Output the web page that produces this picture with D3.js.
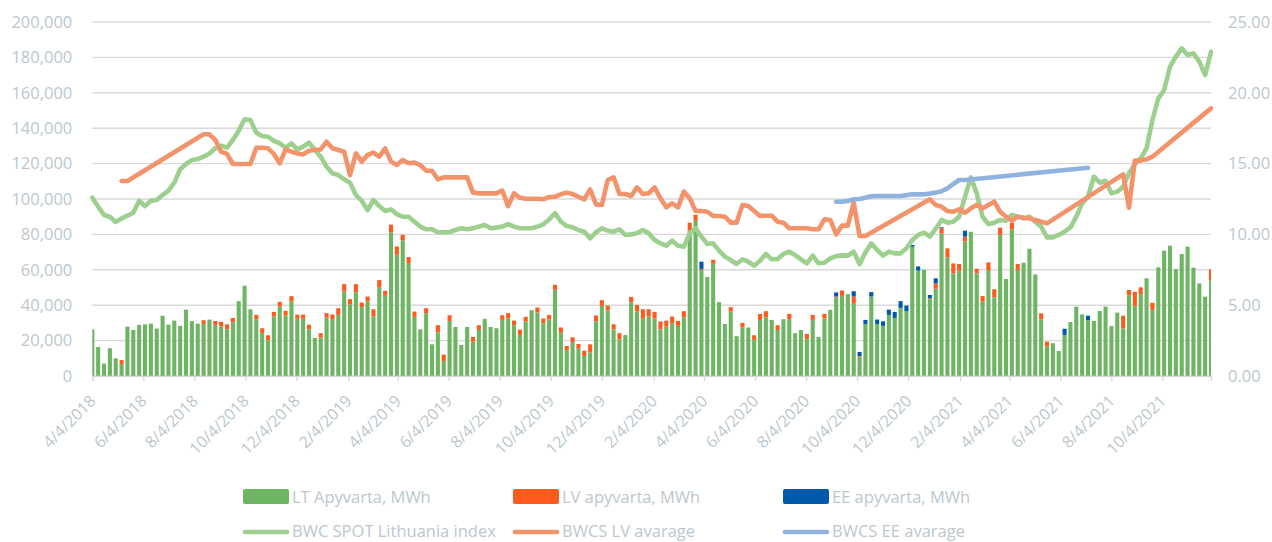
<!DOCTYPE html>
<html>
<head>
<meta charset="utf-8">
<script src="https://cdn.jsdelivr.net/npm/d3@7"></script>
<style>
  body { margin: 0; background: #fff; }
  svg text { font-family: "Open Sans", "Noto Sans", sans-serif; fill: #bcc7ce; }
</style>
</head>
<body>
<div id="chart"></div>
<script>
// weekly series, first week 4/4/2018, one value per week
var weekStart = '2018-04-04';

var LT = [26400, 16400, 7000, 15700, 10000, 6800, 27900, 26000, 28900, 29200,
    29600, 26800, 34000, 29000, 31300, 28300, 37500, 31000, 29600, 29400,
    31900, 28900, 27900, 26400, 30400, 42300, 51000, 37700, 32100, 24200,
    20200, 33600, 39200, 34200, 42100, 32300, 32300, 26400, 21500, 21700,
    33000, 32100, 34500, 47700, 40400, 47200, 38900, 42100, 33600, 50200,
    45300, 81100, 68500, 76600, 63800, 33400, 26400, 35500, 17900, 24700,
    8500, 31100, 27700, 17500, 27700, 19400, 26000, 32300, 27700, 27000,
    31700, 32600, 28700, 23200, 30800, 37200, 35900, 29800, 31900, 48700,
    24500, 14700, 19200, 15500, 11300, 13400, 30900, 39600, 37000, 26400,
    20800, 23200, 41700, 36400, 32600, 33600, 32500, 26400, 27900, 29800,
    28300, 33200, 82300, 87700, 59900, 55900, 63400, 41700, 29400, 36400,
    22500, 27500, 27400, 20400, 31700, 33200, 31700, 26000, 32100, 32100,
    24200, 26000, 20800, 31700, 22100, 32500, 37400, 44300, 45300, 46200,
    40800, 10900, 29400, 44900, 29400, 28300, 34500, 32800, 38500, 36600,
    73000, 59600, 60000, 43400, 49300, 80500, 67000, 58000, 59500, 76100,
    81500, 58000, 42000, 59900, 44400, 79700, 54800, 82900, 59900, 64000,
    71900, 57400, 32000, 16600, 18500, 14100, 23200, 30500, 39200, 34800,
    31600, 31100, 36700, 39200, 28200, 35800, 26900, 45600, 39700, 46300,
    55200, 37300, 61400, 70800, 73600, 60400, 68900, 73100, 61200, 52300,
    44800, 53900];

var LV = [0, 0, 0, 0, 0, 2200, 0, 0, 0, 0,
    0, 0, 0, 0, 0, 0, 0, 0, 0, 2100,
    0, 2200, 2700, 2800, 2400, 0, 0, 0, 2400, 2800,
    2800, 2600, 2700, 2600, 3000, 2400, 2400, 2600, 0, 2500,
    2500, 2600, 3800, 4200, 3000, 4700, 2600, 2800, 4100, 4000,
    2800, 4400, 4700, 3200, 3400, 3000, 0, 2800, 0, 4000,
    3600, 3200, 0, 0, 0, 2700, 2700, 0, 0, 0,
    2600, 2900, 2600, 3000, 2600, 0, 2800, 2700, 2600, 2800,
    2900, 2300, 2700, 2600, 3000, 4500, 3300, 3200, 2800, 2800,
    3400, 0, 3000, 3800, 5100, 4100, 3700, 4400, 3400, 3800,
    2800, 3400, 4300, 3400, 600, 0, 2300, 0, 0, 2500,
    0, 2500, 0, 2600, 3400, 3400, 0, 2700, 0, 3000,
    0, 0, 3000, 2800, 0, 2600, 0, 600, 3000, 0,
    4100, 400, 0, 0, 0, 0, 0, 0, 0, 0,
    0, 0, 0, 500, 3000, 3000, 5100, 5600, 3800, 2600,
    0, 2600, 3200, 4300, 4600, 4100, 0, 3700, 3400, 0,
    0, 0, 3400, 2800, 0, 0, 0, 0, 0, 0,
    0, 0, 0, 0, 0, 0, 7200, 3000, 7800, 3800,
    0, 4100, 0, 0, 0, 0, 0, 0, 0, 0,
    0, 6400];

var EE = [0, 0, 0, 0, 0, 0, 0, 0, 0, 0,
    0, 0, 0, 0, 0, 0, 0, 0, 0, 0,
    0, 0, 0, 0, 0, 0, 0, 0, 0, 0,
    0, 0, 0, 0, 0, 0, 0, 0, 0, 0,
    0, 0, 0, 0, 0, 0, 0, 0, 0, 0,
    0, 0, 0, 0, 0, 0, 0, 0, 0, 0,
    0, 0, 0, 0, 0, 0, 0, 0, 0, 0,
    0, 0, 0, 0, 0, 0, 0, 0, 0, 0,
    0, 0, 0, 0, 0, 0, 0, 0, 0, 0,
    0, 0, 0, 0, 0, 0, 0, 0, 0, 0,
    0, 0, 0, 0, 4100, 0, 0, 0, 0, 0,
    0, 0, 0, 0, 0, 0, 0, 0, 0, 0,
    0, 0, 0, 0, 0, 0, 0, 2300, 0, 0,
    3000, 2300, 2300, 2500, 2500, 2600, 3000, 3400, 3800, 3200,
    1000, 2300, 0, 1900, 2900, 500, 0, 0, 0, 3400,
    0, 0, 0, 0, 0, 0, 0, 0, 0, 0,
    0, 0, 0, 0, 0, 0, 3500, 0, 0, 0,
    2500, 0, 0, 0, 0, 0, 0, 0, 0, 0,
    0, 0, 0, 0, 0, 0, 0, 0, 0, 0,
    0, 0];

var spotLT = [12.59, 11.96, 11.37, 11.25, 10.88, 11.13, 11.32, 11.53, 12.38, 12.0,
    12.38, 12.43, 12.78, 13.09, 13.65, 14.6, 14.97, 15.25, 15.32, 15.49,
    15.72, 16.08, 16.27, 16.12, 16.67, 17.33, 18.13, 18.08, 17.18, 16.95,
    16.9, 16.6, 16.43, 16.12, 16.43, 16.0, 16.2, 16.48, 15.96, 15.49,
    14.78, 14.31, 14.19, 13.89, 13.65, 12.78, 12.38, 11.72, 12.43, 12.0,
    11.65, 11.77, 11.42, 11.25, 11.25, 10.9, 10.55, 10.36, 10.36, 10.15,
    10.15, 10.17, 10.31, 10.43, 10.36, 10.43, 10.55, 10.66, 10.43, 10.48,
    10.55, 10.73, 10.55, 10.43, 10.43, 10.43, 10.55, 10.71, 11.06, 11.49,
    10.9, 10.59, 10.5, 10.31, 10.19, 9.72, 10.15, 10.43, 10.26, 10.19,
    10.36, 9.96, 10.0, 10.08, 10.31, 10.08, 9.6, 9.37, 9.2, 9.56,
    9.2, 9.13, 10.08, 10.43, 9.84, 9.32, 9.37, 8.85, 8.43, 8.19,
    7.91, 8.24, 8.07, 7.79, 8.14, 8.62, 8.24, 8.26, 8.62, 8.78,
    8.54, 8.24, 7.96, 8.5, 7.96, 8.0, 8.31, 8.47, 8.52, 8.5,
    8.78, 7.89, 8.73, 9.37, 8.9, 8.5, 8.78, 8.66, 8.66, 9.02,
    9.6, 9.96, 10.12, 9.84, 10.4, 11.02, 10.83, 10.9, 11.25, 12.66,
    14.03, 12.9, 11.25, 10.73, 10.83, 11.02, 10.97, 11.37, 11.25, 11.13,
    11.25, 10.9, 10.55, 9.79, 9.79, 9.96, 10.19, 10.5, 11.25, 12.19,
    12.66, 14.08, 13.65, 13.79, 12.9, 13.02, 13.37, 14.31, 14.97, 15.37,
    16.08, 18.08, 19.61, 20.2, 21.85, 22.55, 23.14, 22.67, 22.79, 22.2,
    21.26, 22.9];

// null = no value that week, Excel joins the line across the gap
var avgLV = [null, null, null, null, null, 13.77, 13.77, null, null, null,
    null, null, null, null, null, null, null, null, null, 17.07,
    17.07, 16.67, 15.84, 15.68, 14.97, 14.97, 14.97, 14.97, 16.12, 16.12,
    16.08, 15.68, 15.02, 16.0, 15.84, 15.72, 15.65, 15.91, 15.96, 16.0,
    16.55, 16.08, 15.96, 15.84, 14.19, 15.72, 15.14, 15.61, 15.77, 15.49,
    16.08, 15.14, 14.9, 15.25, 15.02, 15.07, 14.9, 14.5, 14.5, 13.89,
    14.03, 14.03, 14.03, 14.03, 14.03, 12.95, 12.9, 12.9, 12.9, 12.9,
    13.09, 12.0, 12.9, 12.59, 12.52, 12.52, 12.52, 12.48, 12.64, 12.66,
    12.83, 12.95, 12.85, 12.66, 12.48, 13.18, 12.12, 12.08, 13.84, 14.03,
    12.85, 12.85, 12.71, 13.32, 12.85, 12.9, 13.32, 12.55, 11.91, 12.19,
    11.91, 13.02, 12.55, 11.65, 11.65, 11.6, 11.3, 11.3, 11.25, 10.83,
    10.83, 12.08, 12.0, 11.65, 11.3, 11.32, 11.32, 10.9, 10.83, 10.43,
    10.43, 10.43, 10.43, 10.36, 10.36, 11.06, 11.02, 10.0, 10.62, 10.62,
    12.24, 9.89, 9.89, null, null, null, null, null, null, null,
    null, null, null, 12.48, 12.08, 11.96, 11.65, 11.6, 11.77, 11.53,
    11.84, 12.08, 11.84, 12.08, 12.31, 11.6, 11.25, 10.97, 11.25, 11.18,
    11.13, 11.02, 10.9, 10.78, null, null, null, null, null, null,
    null, null, null, null, null, null, 14.24, 11.89, 15.21, 15.21,
    15.3, 15.49, null, null, null, null, null, null, null, null,
    null, 18.9];

var avgEE = [];
avgEE[127] = 12.31; avgEE[128] = 12.31; avgEE[129] = 12.36; avgEE[130] = 12.48;
avgEE[131] = 12.5; avgEE[132] = 12.59; avgEE[133] = 12.69; avgEE[134] = 12.71;
avgEE[135] = 12.71; avgEE[136] = 12.71; avgEE[137] = 12.71; avgEE[138] = 12.71;
avgEE[139] = 12.76; avgEE[140] = 12.83; avgEE[141] = 12.83; avgEE[142] = 12.83;
avgEE[143] = 12.88; avgEE[144] = 12.95; avgEE[145] = 13.05; avgEE[146] = 13.25;
avgEE[147] = 13.56; avgEE[148] = 13.84; avgEE[149] = 13.84; avgEE[170] = 14.71;

var tickLabels = ['4/4/2018', '6/4/2018', '8/4/2018', '10/4/2018', '12/4/2018',
    '2/4/2019', '4/4/2019', '6/4/2019', '8/4/2019', '10/4/2019', '12/4/2019',
    '2/4/2020', '4/4/2020', '6/4/2020', '8/4/2020', '10/4/2020', '12/4/2020',
    '2/4/2021', '4/4/2021', '6/4/2021', '8/4/2021', '10/4/2021'];

var barNames = ['LT Apyvarta, MWh', 'LV apyvarta, MWh', 'EE apyvarta, MWh'];
var lineNames = ['BWC SPOT Lithuania index', 'BWCS LV avarage', 'BWCS EE avarage'];
var barColors = ['#6db562', '#ff5a1e', '#005aa9'];
var lineColors = ['#9dd08f', '#f2936b', '#8fb3de'];

// ------------------------------------------------------------------
var width = 1272, height = 542;
var plot = { left: 92.3, right: 1211, top: 22, bottom: 376 };

var svg = d3.select('#chart')
    .append('svg')
    .attr('width', width)
    .attr('height', height);

var parseDay = d3.timeParse('%Y-%m-%d');
var parseTick = d3.timeParse('%-m/%-d/%Y');
var start = parseDay(weekStart);

var rows = LT.map(function(v, i) {
    return {
        date: d3.timeDay.offset(start, 7 * i),
        LT: v, LV: LV[i], EE: EE[i],
        spot: spotLT[i], lv: avgLV[i], ee: avgEE[i]
    };
});

var x = d3.scaleTime()
    .domain([rows[0].date, rows[rows.length - 1].date])
    .range([plot.left, plot.right]);

var y = d3.scaleLinear()
    .domain([0, 200000])
    .range([plot.bottom, plot.top]);

var y2 = d3.scaleLinear()
    .domain([0, 25])
    .range([plot.bottom, plot.top]);

// grid lines
svg.append('g')
    .selectAll('line')
    .data(y.ticks(10))
    .enter()
    .append('line')
    .attr('x1', plot.left)
    .attr('x2', plot.right)
    .attr('y1', function(d) { return y(d); })
    .attr('y2', function(d) { return y(d); })
    .attr('stroke', '#d9d9d9')
    .attr('stroke-width', 1.4);

// left axis
var yAxis = d3.axisLeft(y)
    .ticks(10)
    .tickSize(0)
    .tickPadding(20)
    .tickFormat(d3.format(','));

svg.append('g')
    .attr('transform', 'translate(' + plot.left + ',0)')
    .call(yAxis)
    .call(function(g) { g.select('.domain').remove(); })
    .selectAll('text')
    .style('font-size', '16.5px')
    .style('fill', '#bcc7ce');

// right axis
var y2Axis = d3.axisRight(y2)
    .ticks(5)
    .tickSize(0)
    .tickPadding(17)
    .tickFormat(d3.format('.2f'));

svg.append('g')
    .attr('transform', 'translate(' + plot.right + ',0)')
    .call(y2Axis)
    .call(function(g) { g.select('.domain').remove(); })
    .selectAll('text')
    .style('font-size', '16.5px')
    .style('fill', '#bcc7ce');

// stacked bars
svg.append('clipPath')
    .attr('id', 'plotClip')
    .append('rect')
    .attr('x', plot.left)
    .attr('y', 0)
    .attr('width', plot.right - plot.left)
    .attr('height', height);

var stack = d3.stack().keys(['LT', 'LV', 'EE']);
var layers = stack(rows);
var barW = 4.1;

svg.append('g')
    .attr('clip-path', 'url(#plotClip)')
    .selectAll('g')
    .data(layers)
    .enter()
    .append('g')
    .attr('fill', function(d, i) { return barColors[i]; })
    .selectAll('rect')
    .data(function(d) { return d.filter(function(s) { return s[1] > s[0]; }); })
    .enter()
    .append('rect')
    .attr('x', function(d) { return x(d.data.date) - barW / 2; })
    .attr('width', barW)
    .attr('y', function(d) { return y(d[1]); })
    .attr('height', function(d) { return y(d[0]) - y(d[1]); });

// x axis
var xAxis = d3.axisBottom(x)
    .tickValues(tickLabels.map(parseTick))
    .tickSize(5)
    .tickFormat(d3.timeFormat('%-m/%-d/%Y'));

var gx = svg.append('g')
    .attr('transform', 'translate(0,' + plot.bottom + ')')
    .call(xAxis);

gx.select('.domain').attr('stroke', '#d9d9d9').attr('stroke-width', 1.4);
gx.selectAll('.tick line').attr('stroke', '#d9d9d9').attr('stroke-width', 1.4);
gx.selectAll('.tick text')
    .attr('text-anchor', 'end')
    .attr('y', 0)
    .attr('dy', 0)
    .attr('transform', 'translate(4,26) rotate(-45)')
    .style('font-size', '16px')
    .style('fill', '#bcc7ce');

// lines on the right axis
var line = d3.line()
    .x(function(d) { return x(d.date); })
    .y(function(d) { return y2(d.v); })
    .curve(d3.curveLinear);

var lineKeys = ['spot', 'lv', 'ee'];
lineKeys.forEach(function(k, i) {
    var pts = rows
        .filter(function(r) { return r[k] != null; })
        .map(function(r) { return { date: r.date, v: r[k] }; });
    svg.append('path')
        .datum(pts)
        .attr('d', line)
        .attr('fill', 'none')
        .attr('stroke', lineColors[i])
        .attr('stroke-width', 4.6)
        .attr('stroke-linejoin', 'round')
        .attr('stroke-linecap', 'round');
});

// legend
var legendX = [243, 513, 783];

var leg1 = svg.append('g');
barNames.forEach(function(name, i) {
    leg1.append('rect')
        .attr('x', legendX[i])
        .attr('y', 489)
        .attr('width', 46)
        .attr('height', 15)
        .attr('rx', 2)
        .attr('fill', barColors[i]);
    leg1.append('text')
        .attr('x', legendX[i] + 49)
        .attr('y', 503)
        .style('font-size', '16.5px')
        .text(name);
});

var leg2 = svg.append('g');
lineNames.forEach(function(name, i) {
    leg2.append('line')
        .attr('x1', legendX[i] + 2)
        .attr('x2', legendX[i] + 44)
        .attr('y1', 532)
        .attr('y2', 532)
        .attr('stroke', lineColors[i])
        .attr('stroke-width', 4.6)
        .attr('stroke-linecap', 'round');
    leg2.append('text')
        .attr('x', legendX[i] + 49)
        .attr('y', 537)
        .style('font-size', '16.5px')
        .text(name);
});
</script>
</body>
</html>
